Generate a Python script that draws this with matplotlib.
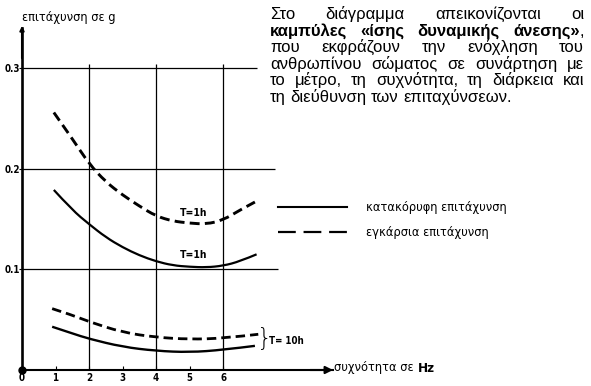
import matplotlib
matplotlib.use("Agg")
import matplotlib.pyplot as plt
from matplotlib.lines import Line2D
from matplotlib.path import Path
from matplotlib.patches import PathPatch
from matplotlib import font_manager as fm
from matplotlib.font_manager import FontProperties

# ---------------- data ----------------
freq_dashed_1h = [0.95, 1.5, 2.0, 2.5, 3.0, 3.5, 4.0, 4.5, 5.0, 5.5, 6.0, 6.5, 6.95]
acc_dashed_1h = [0.256, 0.230, 0.205, 0.187, 0.174, 0.163, 0.153, 0.148, 0.146, 0.145, 0.149, 0.159, 0.167]

freq_solid_1h = [0.95, 1.5, 2.0, 2.5, 3.0, 3.5, 4.0, 4.5, 5.0, 5.5, 6.0, 6.5, 7.0]
acc_solid_1h = [0.179, 0.159, 0.145, 0.132, 0.122, 0.114, 0.108, 0.104, 0.1026, 0.102, 0.1036, 0.108, 0.115]

freq_dashed_10h = [0.9, 1.5, 2.0, 3.0, 4.0, 5.0, 6.0, 7.05]
acc_dashed_10h = [0.061, 0.0546, 0.048, 0.0374, 0.0325, 0.0305, 0.0315, 0.0355]

freq_solid_10h = [0.9, 1.5, 2.0, 3.0, 4.0, 5.0, 6.0, 6.95]
acc_solid_10h = [0.043, 0.0364, 0.031, 0.023, 0.019, 0.0176, 0.020, 0.024]

x_ticks = [0, 1, 2, 3, 4, 5, 6]
x_tick_labels = ["0", "1", "2", "3", "4", "5", "6"]
y_ticks = [0.1, 0.2, 0.3]
y_tick_labels = ["0.1", "0.2", "0.3"]
grid_freqs = [2, 4, 6]
grid_accs = [0.1, 0.2, 0.3]

y_label = "επιτάχυνση σε g"
x_label = "συχνότητα σε "
x_unit = "Hz"
legend_labels = ["κατακόρυφη επιτάχυνση", "εγκάρσια επιτάχυνση"]
label_1h = "T=1h"
label_10h = "T= 10h"

paragraph = [
    [("Στο διάγραμμα απεικονίζονται οι", False)],
    [("καμπύλες «ίσης δυναμικής άνεσης»", True), (",", False)],
    [("που εκφράζουν την ενόχληση του", False)],
    [("ανθρωπίνου σώματος σε συνάρτηση με", False)],
    [("το μέτρο, τη συχνότητα, τη διάρκεια και", False)],
    [("τη διεύθυνση των επιταχύνσεων.", False)],
]

# ---------------- layout ----------------
W, H = 591, 386
fig = plt.figure(figsize=(W / 100, H / 100), dpi=100)
fig.patch.set_facecolor("white")

names = {f.name for f in fm.fontManager.ttflist}
narrow = "Liberation Sans Narrow" if "Liberation Sans Narrow" in names else "DejaVu Sans"
fp_tick = FontProperties(family=[narrow], stretch="condensed", weight="bold", size=7)
fp_curve = FontProperties(family=[narrow], stretch="condensed", weight="bold", size=7.5)
fp_curve2 = FontProperties(family=[narrow], stretch="condensed", weight="bold", size=7)
fp_label = FontProperties(family=["DejaVu Sans"], size=8.3)
body_font = "Liberation Sans"


def fx(x):
    return x / W


def fy(y):
    return 1 - y / H


ax = fig.add_axes([22 / W, (H - 370) / H, 311 / W, 342 / H])
ax.set_xlim(0, 9.28)
ax.set_ylim(0, 0.340)
ax.set_facecolor("none")
for s in ["top", "right"]:
    ax.spines[s].set_visible(False)
ax.spines["left"].set_linewidth(1.9)
ax.spines["bottom"].set_linewidth(1.5)

ax.set_xticks(x_ticks)
ax.set_xticklabels(x_tick_labels)
ax.set_yticks(y_ticks)
ax.set_yticklabels(y_tick_labels)
ax.tick_params(axis="x", direction="in", length=3, width=0.8, pad=2)
ax.tick_params(axis="y", direction="out", length=2, width=0.8, pad=-0.5)
for lab in ax.get_xticklabels() + ax.get_yticklabels():
    lab.set_fontproperties(fp_tick)

# grid (partial, as in the original)
ax.hlines(grid_accs, 0, [7.64, 7.55, 7.01], color="black", lw=0.9)
ax.vlines(grid_freqs, 0, 0.304, color="black", lw=0.9)

# axis arrows and origin dot
ax.annotate("", xy=(9.28, 0), xytext=(8.6, 0), xycoords="data",
            arrowprops=dict(arrowstyle="-|>", color="black", lw=1.5,
                            mutation_scale=11, shrinkA=0, shrinkB=0),
            annotation_clip=False)
ax.annotate("", xy=(0, 0.342), xytext=(0, 0.31), xycoords="data",
            arrowprops=dict(arrowstyle="-|>", color="black", lw=1.5,
                            mutation_scale=6, shrinkA=0, shrinkB=0),
            annotation_clip=False)
ax.plot([0], [0], "o", color="black", ms=5, clip_on=False, zorder=5)


# curves: smooth quadratic path through the read points
def smooth_curve(xs, ys, **kw):
    verts = [(xs[0], ys[0])]
    codes = [Path.MOVETO]
    n = len(xs)
    for i in range(1, n - 1):
        if i == n - 2:
            end = (xs[i + 1], ys[i + 1])
        else:
            end = ((xs[i] + xs[i + 1]) / 2, (ys[i] + ys[i + 1]) / 2)
        verts += [(xs[i], ys[i]), end]
        codes += [Path.CURVE3, Path.CURVE3]
    patch = PathPatch(Path(verts, codes), fill=False, edgecolor="black",
                      capstyle="butt", **kw)
    ax.add_patch(patch)
    return patch


dash = (0, (3.4, 1.8))
smooth_curve(freq_dashed_1h, acc_dashed_1h, lw=2.1, linestyle=dash)
smooth_curve(freq_solid_1h, acc_solid_1h, lw=1.6)
smooth_curve(freq_dashed_10h, acc_dashed_10h, lw=2.0, linestyle=dash)
smooth_curve(freq_solid_10h, acc_solid_10h, lw=1.7)

ax.text(5.12, 0.156, label_1h, ha="center", va="center", fontproperties=fp_curve)
ax.text(5.12, 0.114, label_1h, ha="center", va="center", fontproperties=fp_curve)
ax.text(7.02, 0.0305, "}", ha="left", va="center", fontsize=17,
        family="DejaVu Sans", fontweight="light")
ax.text(7.38, 0.029, label_10h, ha="left", va="center", fontproperties=fp_curve2)

# legend
h_solid = Line2D([], [], color="black", lw=1.5)
h_dash = Line2D([], [], color="black", lw=1.6, linestyle=(0, (8, 3.5)))
ax.legend([h_solid, h_dash], legend_labels, loc="upper left",
          bbox_to_anchor=(fx(278), fy(201)), bbox_transform=fig.transFigure,
          frameon=False, prop=fp_label, handlelength=5.95, handletextpad=1.65,
          labelspacing=1.05, borderpad=0, borderaxespad=0)

# axis titles
fig.text(fx(22), fy(18), y_label, ha="left", va="center", fontproperties=fp_label)

renderer = fig.canvas.get_renderer()
t_xl = fig.text(fx(334), fy(368), x_label, ha="left", va="center", fontproperties=fp_label)
wx = t_xl.get_window_extent(renderer).width
fig.text(fx(334 + wx + 1), fy(368), x_unit, ha="left", va="center",
         family="DejaVu Sans", fontweight="bold", fontsize=8.7)

# justified paragraph
left, right = 270, 584
base0, step = 19, 16.6
fs = 12


def measure(txt, bold):
    t = fig.text(0, 0, txt, fontsize=fs, family=body_font,
                 fontweight="bold" if bold else "normal")
    w = t.get_window_extent(renderer).width
    t.remove()
    return w


space_w = measure("a a", False) - measure("aa", False)

for li, segs in enumerate(paragraph):
    words = []
    for txt, bold in segs:
        parts = txt.split(" ")
        for i, p in enumerate(parts):
            if i == 0 and words:
                words[-1].append((p, bold))
            else:
                words.append([(p, bold)])
    widths = [[measure(p, b) for p, b in w] for w in words]
    totals = [sum(w) for w in widths]
    last = li == len(paragraph) - 1
    if last or len(words) == 1:
        gap = space_w
    else:
        gap = max(space_w, (right - left - sum(totals)) / (len(words) - 1))
    x = left
    y = base0 + li * step
    for w, ws in zip(words, widths):
        xx = x
        for (p, b), pw in zip(w, ws):
            fig.text(fx(xx), fy(y), p, fontsize=fs, family=body_font,
                     fontweight="bold" if b else "normal", va="baseline", ha="left")
            xx += pw
        x = xx + gap

fig.savefig("out.png", dpi=100)
